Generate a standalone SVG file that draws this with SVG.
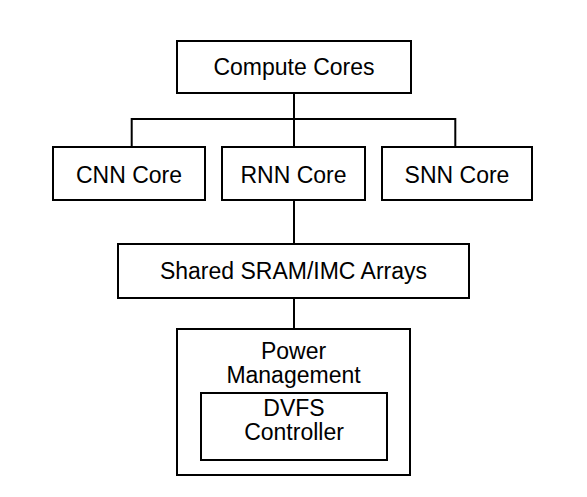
<svg xmlns="http://www.w3.org/2000/svg" width="587" height="497" viewBox="0 0 587 497">
<style>
.box{fill:#fff;stroke:#000;stroke-width:2}
.lbl{font-family:"Liberation Sans",Arial,sans-serif;font-size:23px;fill:#000;text-anchor:middle}
.con{fill:none;stroke:#000;stroke-width:2}
</style>
<rect width="587" height="497" fill="#fff"/>
<g id="connectors">
<path class="con" d="M294 93V119M131.7 147V119H455.3V147M294 119V147M294 200V244M294 298V329"/>
</g>
<g id="compute-cores">
<rect class="box" x="177" y="41" width="234" height="52"/>
<text class="lbl" x="294" y="75">Compute Cores</text>
</g>
<g id="cnn-core">
<rect class="box" x="53" y="147" width="152" height="53"/>
<text class="lbl" x="129" y="182.5">CNN Core</text>
</g>
<g id="rnn-core">
<rect class="box" x="222" y="147" width="143" height="53"/>
<text class="lbl" x="293.5" y="182.5">RNN Core</text>
</g>
<g id="snn-core">
<rect class="box" x="382" y="147" width="150" height="53"/>
<text class="lbl" x="457" y="182.5">SNN Core</text>
</g>
<g id="shared-sram">
<rect class="box" x="118" y="244" width="351" height="54"/>
<text class="lbl" x="293.5" y="279">Shared SRAM/IMC Arrays</text>
</g>
<g id="power-management">
<rect class="box" x="177" y="329" width="233" height="146"/>
<text class="lbl" x="293.5" y="358.5">Power</text>
<text class="lbl" x="293.5" y="383">Management</text>
</g>
<g id="dvfs-controller">
<rect class="box" x="201" y="393" width="186" height="67"/>
<text class="lbl" x="294" y="416">DVFS</text>
<text class="lbl" x="294" y="440">Controller</text>
</g>
</svg>
